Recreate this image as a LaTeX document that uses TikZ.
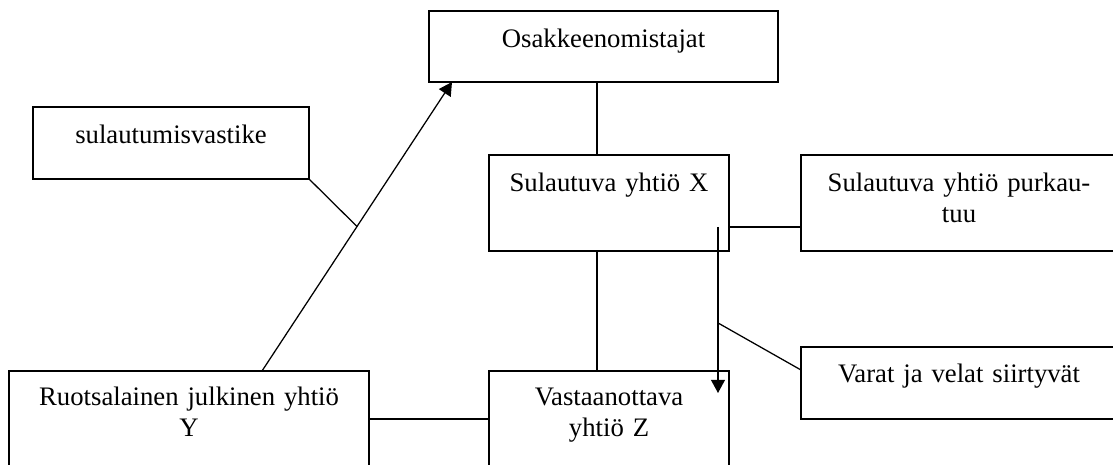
\documentclass[tikz,border=0pt]{standalone}
\usepackage{fontspec}
\setmainfont{Liberation Serif}
\usepackage{tikz}
\usetikzlibrary{arrows.meta, calc}

\begin{document}
\begin{tikzpicture}[
  x=0.025cm, y=-0.025cm,
  font=\fontsize{19}{22.7}\selectfont,
  box/.style={draw, line width=0.9pt, anchor=north west, align=center, inner sep=0pt, outer sep=0pt},
  link/.style={line width=0.9pt},
  arrow/.style={line width=0.9pt, -{Triangle[length=3.3mm, width=3.5mm]}}
]
\path[use as bounding box, clip] (0,0) rectangle (1113,465);

\node[box, text width=8.725cm, text height=0.9cm, text depth=0.875cm] (owners) at (429,11) {Osakkeenomistajat};
\node[box, text width=6.9cm, text height=0.9cm, text depth=0.9cm] (consid) at (33,107) {sulautumisvastike};
\node[box, text width=6cm, text height=0.9cm, text depth=1.5cm] (mergX) at (489,155) {Sulautuva yhtiö X};
\node[box, text width=7.9cm, text height=0.9cm, text depth=1.5cm] (dissolve) at (801,155) {Sulautuva yhtiö purkau-\\tuu};
\node[box, text width=7.9cm, text height=0.875cm, text depth=0.925cm] (assets) at (801,347) {Varat ja velat siirtyvät};
\node[box, text width=6cm, text height=0.85cm, text depth=1.875cm] (recvZ) at (489,371) {Vastaanottava\\yhtiö Z};
\node[box, text width=9cm, text height=0.85cm, text depth=1.875cm] (swedY) at (9,371) {Ruotsalainen julkinen yhtiö\\Y};

\coordinate (trunk) at (597,0);
\coordinate (xout) at (718,227);
\coordinate (zin) at (718,393);
\coordinate (ystart) at (262,371);
\coordinate (oin) at (452,82);
\coordinate (ylink) at (0,419);

\draw[link] (owners.south -| trunk) -- (mergX.north -| trunk);
\draw[link] (mergX.south -| trunk) -- (recvZ.north -| trunk);
\draw[link] (xout -| mergX.east) -- (xout -| dissolve.west);
\draw[arrow] (xout) -- (zin);
\draw[link] ($(xout)!0.578!(zin)$) -- ([yshift=0.325cm]assets.west);
\draw[link] (swedY.east |- ylink) -- (recvZ.west |- ylink);
\draw[arrow] (ystart) -- (oin);
\draw[link] (consid.south east) -- ($(ystart)!0.5!(oin)$);
\end{tikzpicture}
\end{document}
